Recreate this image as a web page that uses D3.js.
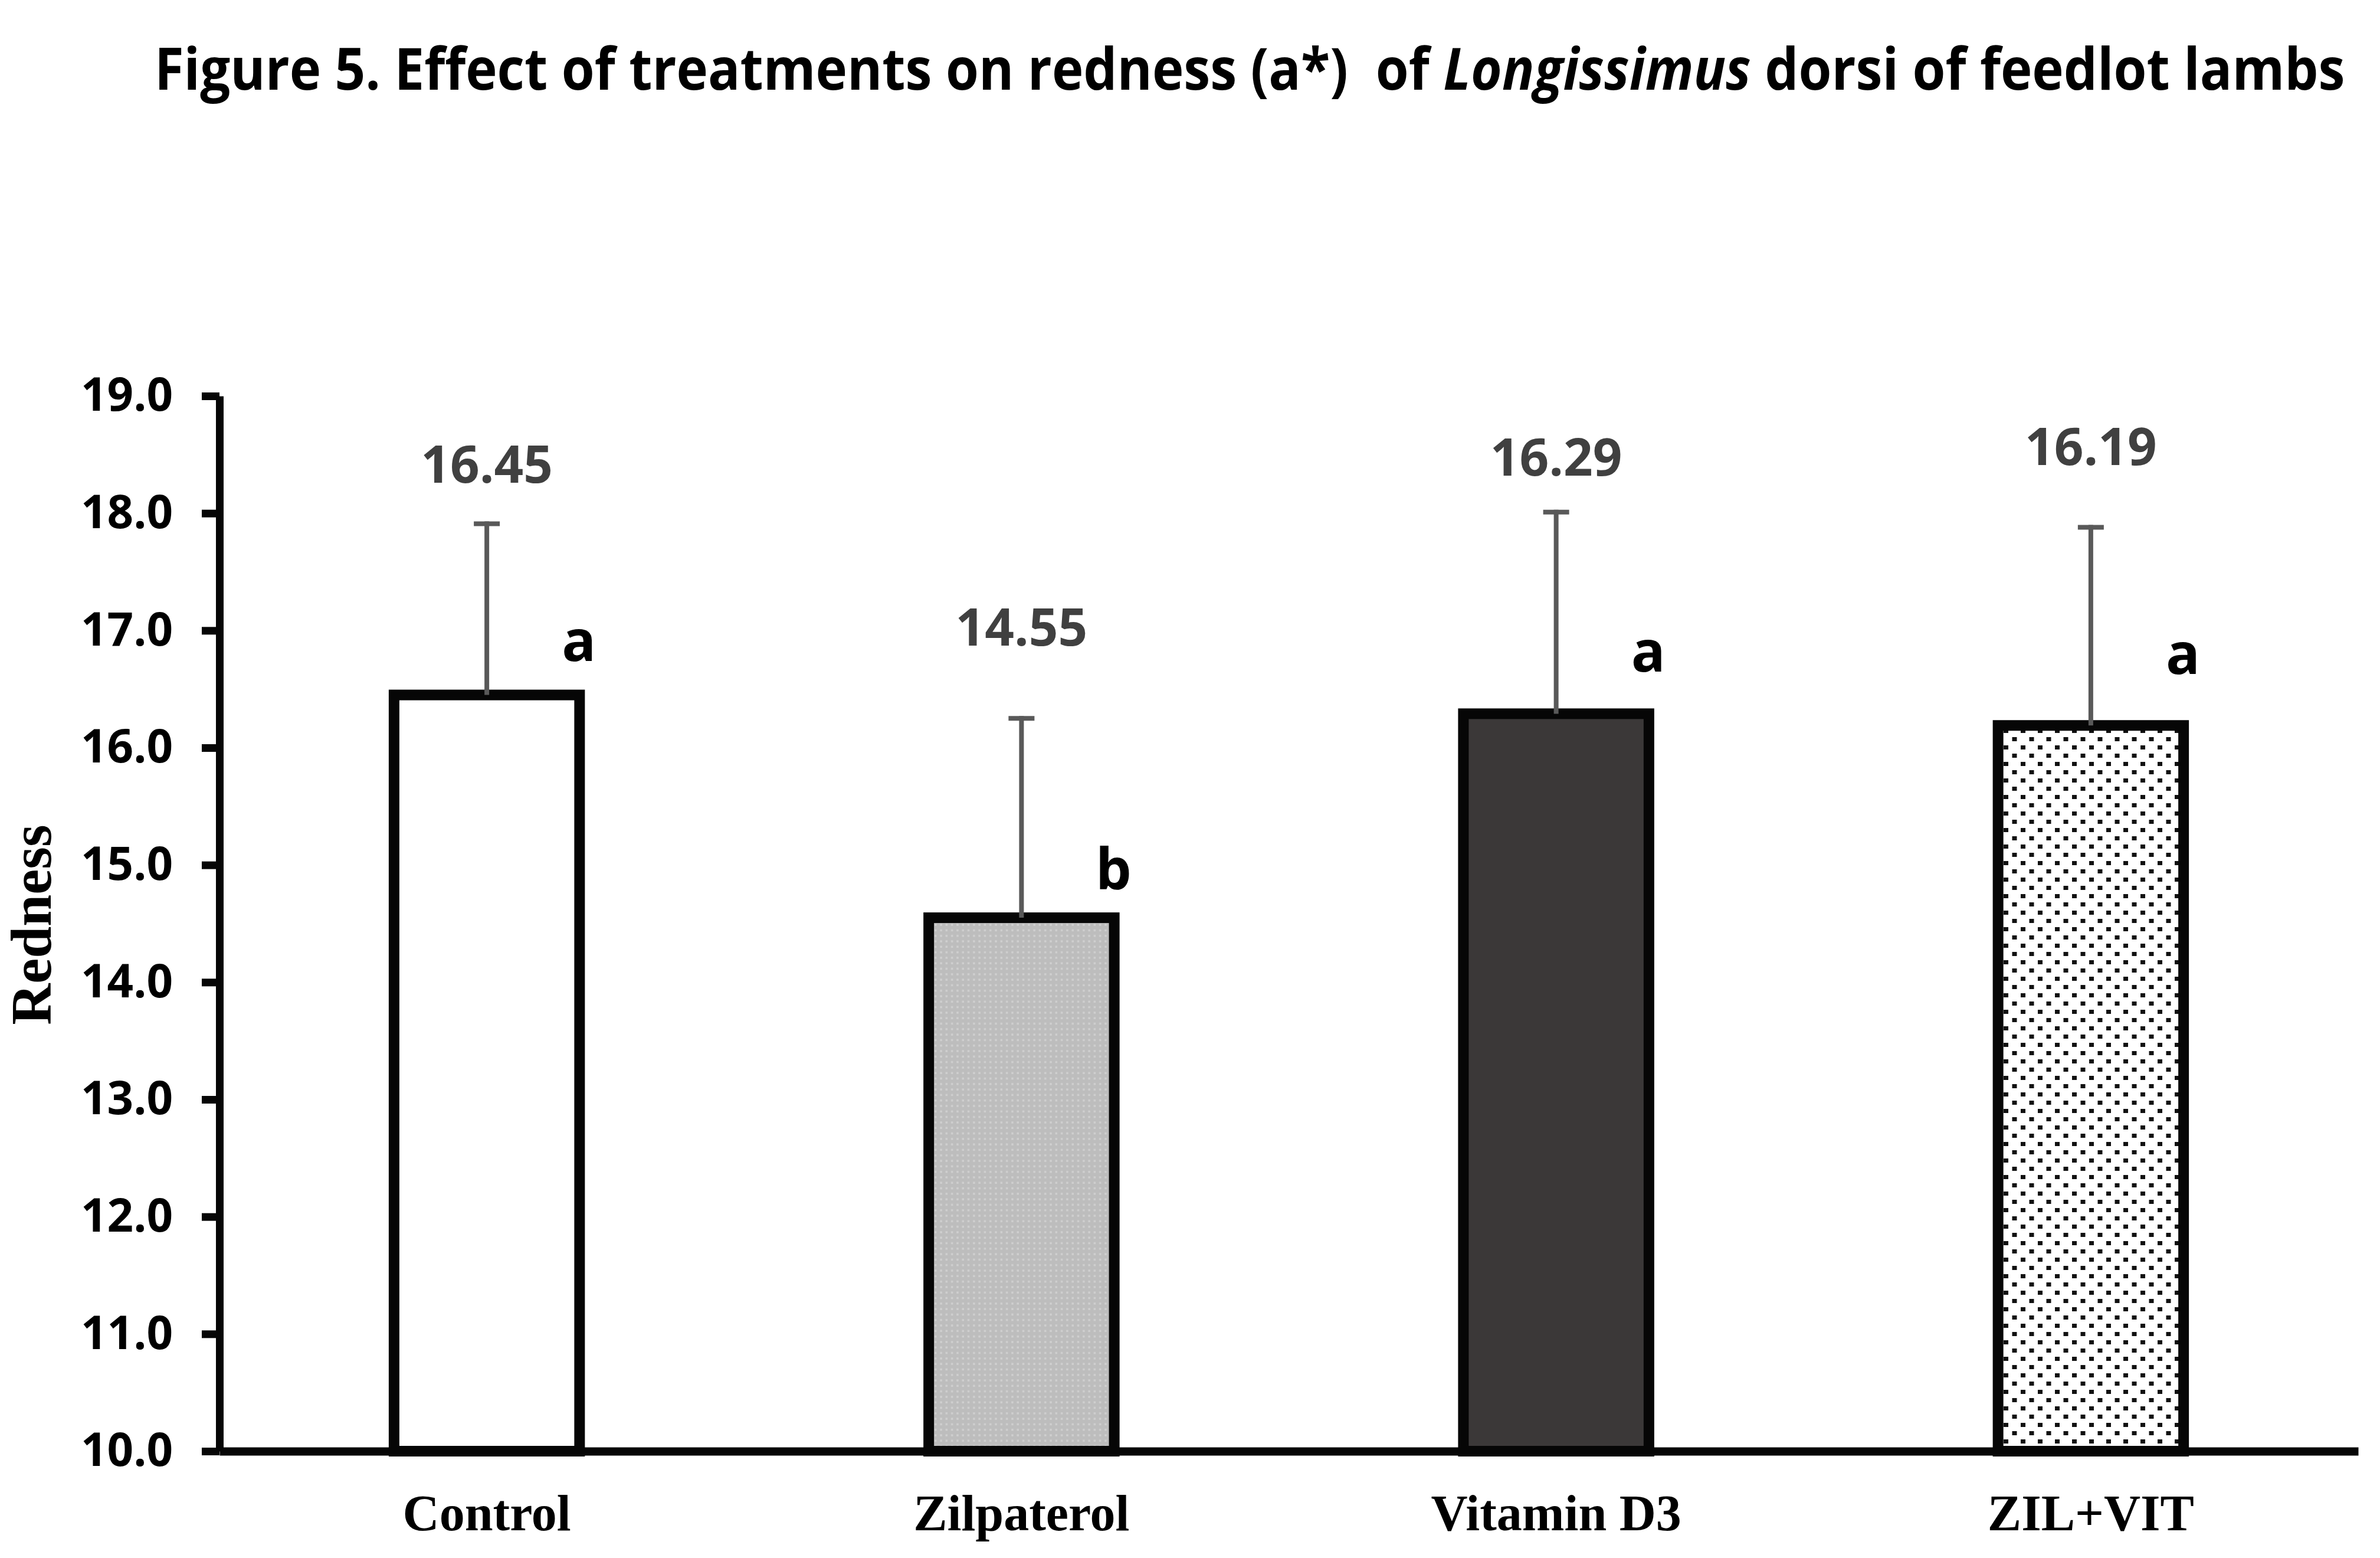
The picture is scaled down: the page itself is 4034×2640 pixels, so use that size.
<!DOCTYPE html>
<html>
<head>
<meta charset="utf-8">
<script src="https://cdn.jsdelivr.net/npm/d3@7"></script>
<style>
  body { margin: 0; background: #fff; }
  svg { display: block; }
</style>
</head>
<body>
<svg id="chart"></svg>
<script>
// Data
const categories = ["Control", "Zilpaterol", "Vitamin D3", "ZIL+VIT"];
const means = [16.45, 14.55, 16.29, 16.19];
const sds = [1.48, 1.72, 1.74, 1.71];
const letters = ["a", "b", "a", "a"];
const yTicks = [10, 11, 12, 13, 14, 15, 16, 17, 18, 19];

// where the labels sit, in axis units (placed by hand in the original)
const valueLabelAt = [18.26, 16.87, 18.32, 18.41];
const letterAt = [16.74, 14.79, 16.65, 16.63];

const width = 4034;
const height = 2640;

const svg = d3.select("#chart")
    .attr("width", width)
    .attr("height", height)
    .attr("viewBox", [0, 0, width, height]);

// Patterns for the bar fills
const defs = svg.append("defs");

const grey = defs.append("pattern")
    .attr("id", "greyDots")
    .attr("patternUnits", "userSpaceOnUse")
    .attr("width", 9.3)
    .attr("height", 9.3);
grey.append("rect").attr("width", 9.3).attr("height", 9.3).attr("fill", "#bdbdbd");
grey.append("rect").attr("x", 3).attr("y", 3).attr("width", 3.5).attr("height", 3.5).attr("fill", "#cfcfcf");

const dots = defs.append("pattern")
    .attr("id", "blackDots")
    .attr("patternUnits", "userSpaceOnUse")
    .attr("width", 29)
    .attr("height", 28);
dots.append("rect").attr("width", 29).attr("height", 28).attr("fill", "#fff");
dots.append("rect").attr("x", 3).attr("y", 3).attr("width", 8).attr("height", 7).attr("fill", "#111");
dots.append("rect").attr("x", 17.5).attr("y", 17).attr("width", 8).attr("height", 7).attr("fill", "#111");

const fills = ["#ffffff", "url(#greyDots)", "#3b3838", "url(#blackDots)"];

// Scales
const x = d3.scaleBand()
    .domain(categories)
    .range([372, 3997])
    .paddingInner(0.653)
    .paddingOuter(0.3265);

const y = d3.scaleLinear()
    .domain([10, 19])
    .range([2459, 671]);

const rows = categories.map((c, i) => ({
    cat: c, mean: means[i], sd: sds[i], letter: letters[i],
    labelAt: valueLabelAt[i], letterAt: letterAt[i], fill: fills[i]
}));

// Title: drawn at natural width, then squeezed horizontally to fit the original span
const titleG = svg.append("g");
const title = titleG.append("text")
    .attr("font-family", "'Open Sans', sans-serif")
    .attr("font-weight", "bold")
    .attr("font-size", 98)
    .attr("fill", "#000")
    .style("white-space", "pre");
title.append("tspan").text("Figure 5. Effect of treatments on redness (a*)  of ");
title.append("tspan").attr("font-style", "italic").text("Longissimus");
title.append("tspan").text(" dorsi of feedlot lambs");
const titleW = title.node().getComputedTextLength();
titleG.attr("transform", `translate(262,152) scale(${3713 / titleW},1)`);

// Bars
svg.append("g")
    .selectAll("rect")
    .data(rows)
    .join("rect")
    .attr("x", d => x(d.cat))
    .attr("y", d => y(d.mean))
    .attr("width", x.bandwidth())
    .attr("height", d => y(10) - y(d.mean))
    .attr("fill", d => d.fill)
    .attr("stroke", "#060606")
    .attr("stroke-width", 18);

// Error bars (upper only)
const err = svg.append("g")
    .attr("stroke", "#595959")
    .attr("stroke-width", 8);

err.selectAll("line.stem")
    .data(rows)
    .join("line")
    .attr("class", "stem")
    .attr("x1", d => x(d.cat) + x.bandwidth() / 2)
    .attr("x2", d => x(d.cat) + x.bandwidth() / 2)
    .attr("y1", d => y(d.mean))
    .attr("y2", d => y(d.mean + d.sd));

err.selectAll("line.cap")
    .data(rows)
    .join("line")
    .attr("class", "cap")
    .attr("x1", d => x(d.cat) + x.bandwidth() / 2 - 22)
    .attr("x2", d => x(d.cat) + x.bandwidth() / 2 + 22)
    .attr("y1", d => y(d.mean + d.sd) + 4)
    .attr("y2", d => y(d.mean + d.sd) + 4);

// Value labels
svg.append("g")
    .selectAll("text")
    .data(rows)
    .join("text")
    .attr("x", d => x(d.cat) + x.bandwidth() / 2)
    .attr("y", d => y(d.labelAt))
    .attr("text-anchor", "middle")
    .attr("font-family", "'Open Sans', sans-serif")
    .attr("font-weight", "bold")
    .attr("font-size", 87)
    .attr("fill", "#404040")
    .text(d => d3.format(".2f")(d.mean));

// Significance letters
svg.append("g")
    .selectAll("text")
    .data(rows)
    .join("text")
    .attr("x", d => x(d.cat) + x.bandwidth() / 2 + 156)
    .attr("y", d => y(d.letterAt))
    .attr("text-anchor", "middle")
    .attr("font-family", "'Open Sans', sans-serif")
    .attr("font-weight", "bold")
    .attr("font-size", 96)
    .attr("fill", "#000")
    .text(d => d.letter);

// Y axis
const yAxis = svg.append("g")
    .attr("transform", "translate(372,0)")
    .call(d3.axisLeft(y)
        .tickValues(yTicks)
        .tickSize(30)
        .tickSizeOuter(0)
        .tickPadding(49)
        .tickFormat(d3.format(".1f")));

yAxis.select(".domain").attr("stroke", "#060606").attr("stroke-width", 13);
yAxis.selectAll(".tick line").attr("stroke", "#060606").attr("stroke-width", 13);
yAxis.selectAll(".tick text")
    .attr("font-family", "'Open Sans', sans-serif")
    .attr("font-weight", "bold")
    .attr("font-size", 78)
    .attr("fill", "#000");

// X axis
const xAxis = svg.append("g")
    .attr("transform", `translate(0,${y(10)})`)
    .call(d3.axisBottom(x).tickSize(0).tickSizeOuter(0));

xAxis.select(".domain").attr("stroke", "#060606").attr("stroke-width", 14);
xAxis.selectAll(".tick text")
    .attr("y", 134)
    .attr("dy", 0)
    .attr("font-family", "'Liberation Serif', 'Times New Roman', serif")
    .attr("font-weight", "bold")
    .attr("font-size", 86)
    .attr("fill", "#000");

// Y axis title
svg.append("text")
    .attr("transform", "translate(86,1567) rotate(-90)")
    .attr("text-anchor", "middle")
    .attr("font-family", "'Liberation Serif', 'Times New Roman', serif")
    .attr("font-weight", "bold")
    .attr("font-size", 97)
    .attr("fill", "#000")
    .text("Redness");
</script>
</body>
</html>
